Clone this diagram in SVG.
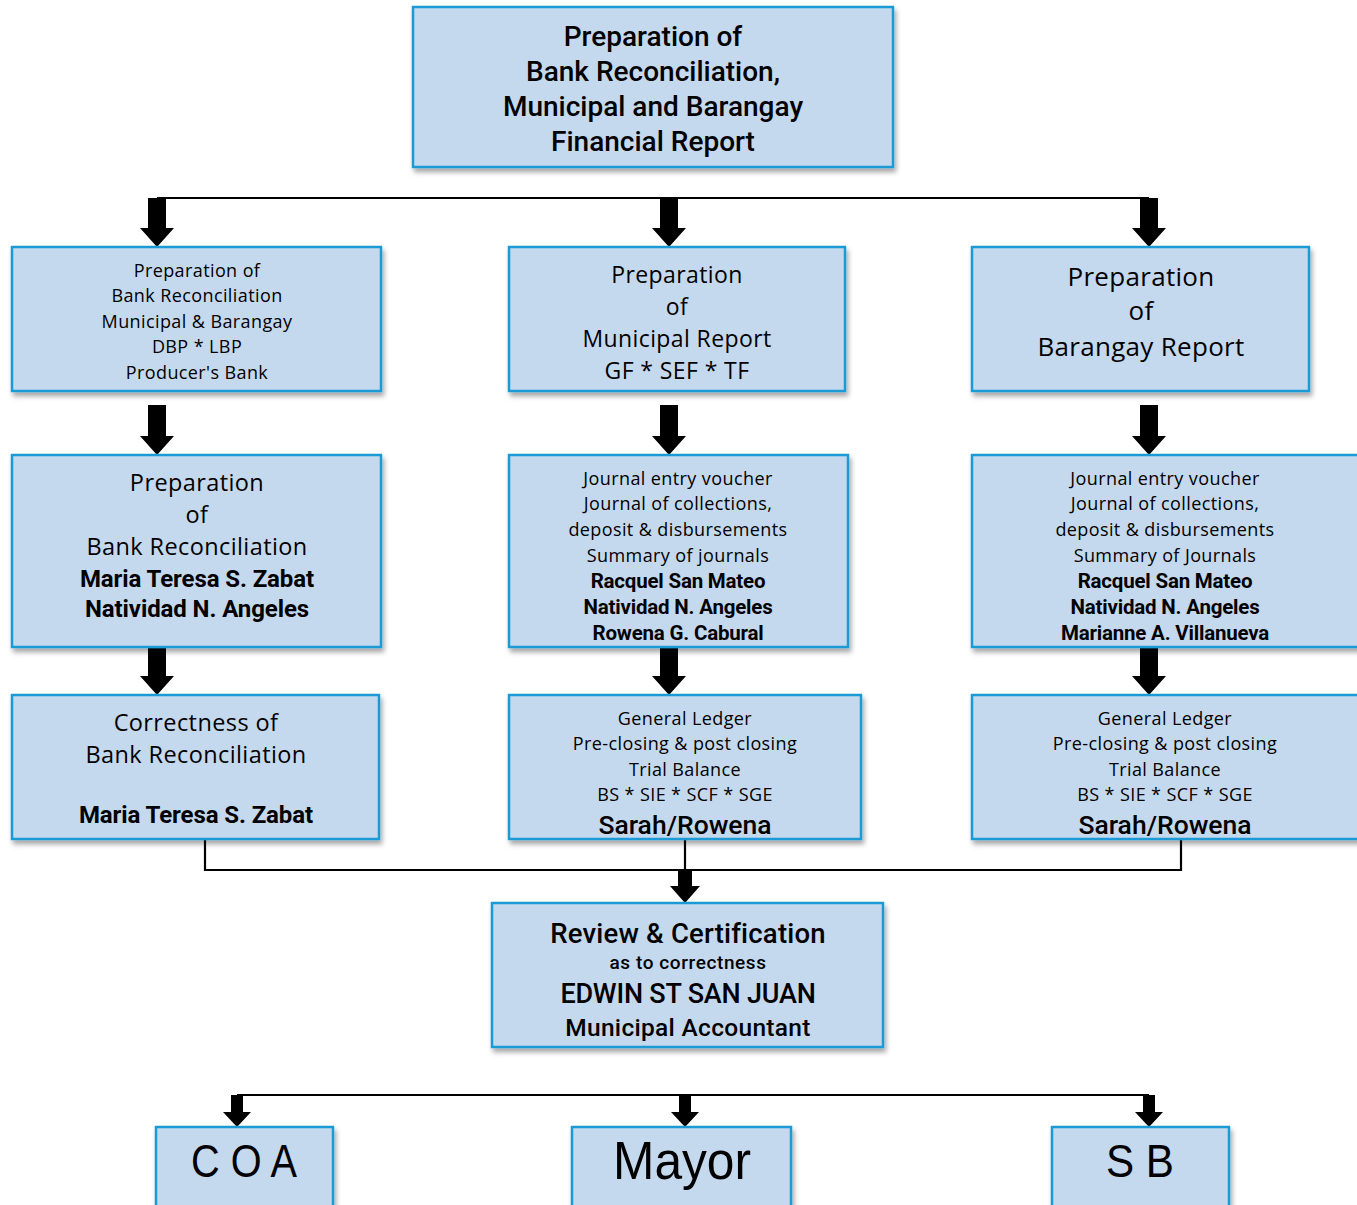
<svg xmlns="http://www.w3.org/2000/svg" width="1357" height="1205" viewBox="0 0 1357 1205">
<defs>
<filter id="sh" x="-5%" y="-5%" width="112%" height="120%">
<feDropShadow dx="2" dy="4" stdDeviation="2.5" flood-color="#000" flood-opacity="0.35"/>
</filter>
<style>
.box{fill:#c5d9ee;stroke:#1b9ad6;stroke-width:2.5;filter:url(#sh)}
.ln{stroke:#000;stroke-width:2.2;fill:none}
.ar{fill:#000}
text{text-anchor:middle;fill:#000}
.r{font-family:"Open Sans","DejaVu Sans",sans-serif}
.s{font-size:18px;letter-spacing:0.4px}
.h{font-family:Roboto,"Liberation Sans",sans-serif;font-weight:500}
.b{font-family:Roboto,"Liberation Sans",sans-serif;font-weight:700}
.n{font-family:"Liberation Sans",Arial,sans-serif}
</style>
</defs>
<rect width="1357" height="1205" fill="#fff"/>

<g id="connectors">
<path class="ln" d="M157 198H1149"/>
<path class="ln" d="M205 839V870H1181V839M685 839V870"/>
<path class="ln" d="M237 1095H1149"/>
<g class="ar">
<polygon points="148,198 166,198 166,228 174,228 157,247 140,228 148,228"/>
<polygon points="660,198 678,198 678,228 686,228 669,247 652,228 660,228"/>
<polygon points="1140,198 1158,198 1158,228 1166,228 1149,247 1132,228 1140,228"/>
<polygon points="148,405 166,405 166,436 174,436 157,455 140,436 148,436"/>
<polygon points="660,405 678,405 678,436 686,436 669,455 652,436 660,436"/>
<polygon points="1140,405 1158,405 1158,436 1166,436 1149,455 1132,436 1140,436"/>
<polygon points="148,647 166,647 166,676 174,676 157,695 140,676 148,676"/>
<polygon points="660,647 678,647 678,676 686,676 669,695 652,676 660,676"/>
<polygon points="1140,647 1158,647 1158,676 1166,676 1149,695 1132,676 1140,676"/>
<polygon points="678,870 692,870 692,886 700,886 685,903 670,886 678,886"/>
<polygon points="231,1095 243,1095 243,1112 251,1112 237,1127 223,1112 231,1112"/>
<polygon points="679,1095 691,1095 691,1112 699,1112 685,1127 671,1112 679,1112"/>
<polygon points="1143,1095 1155,1095 1155,1112 1163,1112 1149,1127 1135,1112 1143,1112"/>
</g>
</g>

<g id="top">
<rect class="box" x="413" y="7" width="480" height="160"/>
<text class="h" font-size="28"><tspan x="653" y="46">Preparation of</tspan><tspan x="653" y="81">Bank Reconciliation,</tspan><tspan x="653" y="116">Municipal and Barangay</tspan><tspan x="653" y="151">Financial Report</tspan></text>
</g>

<g id="bank-prep">
<rect class="box" x="12" y="247" width="369" height="144"/>
<text class="r s"><tspan x="197" y="277">Preparation of</tspan><tspan x="197" y="302">Bank Reconciliation</tspan><tspan x="197" y="328">Municipal &amp; Barangay</tspan><tspan x="197" y="353">DBP * LBP</tspan><tspan x="197" y="379">Producer's Bank</tspan></text>
</g>

<g id="municipal-prep">
<rect class="box" x="509" y="247" width="336" height="144"/>
<text class="r" font-size="23" letter-spacing="0.4"><tspan x="677" y="283">Preparation</tspan><tspan x="677" y="315">of</tspan><tspan x="677" y="347">Municipal Report</tspan><tspan x="677" y="379">GF * SEF * TF</tspan></text>
</g>

<g id="barangay-prep">
<rect class="box" x="972" y="247" width="337" height="144"/>
<text class="r" font-size="26" letter-spacing="0.3"><tspan x="1141" y="286">Preparation</tspan><tspan x="1141" y="320">of</tspan><tspan x="1141" y="356">Barangay Report</tspan></text>
</g>

<g id="bank-rec">
<rect class="box" x="12" y="455" width="369" height="192"/>
<text class="r" font-size="23.5" letter-spacing="0.4"><tspan x="197" y="491">Preparation</tspan><tspan x="197" y="523">of</tspan><tspan x="197" y="555">Bank Reconciliation</tspan></text>
<text class="b" font-size="24" letter-spacing="-0.1"><tspan x="197" y="587">Maria Teresa S. Zabat</tspan><tspan x="197" y="617">Natividad N. Angeles</tspan></text>
</g>

<g id="municipal-journal">
<rect class="box" x="509" y="455" width="339" height="192"/>
<text class="r s"><tspan x="678" y="485">Journal entry voucher</tspan><tspan x="678" y="510">Journal of collections,</tspan><tspan x="678" y="536">deposit  &amp; disbursements</tspan><tspan x="678" y="562">Summary of journals</tspan></text>
<text class="b" font-size="20.5" letter-spacing="-0.2"><tspan x="678" y="588">Racquel San Mateo</tspan><tspan x="678" y="614">Natividad N. Angeles</tspan><tspan x="678" y="640">Rowena G. Cabural</tspan></text>
</g>

<g id="barangay-journal">
<rect class="box" x="972" y="455" width="390" height="192"/>
<text class="r s"><tspan x="1165" y="485">Journal entry voucher</tspan><tspan x="1165" y="510">Journal of collections,</tspan><tspan x="1165" y="536">deposit  &amp; disbursements</tspan><tspan x="1165" y="562">Summary of Journals</tspan></text>
<text class="b" font-size="20.5" letter-spacing="-0.2"><tspan x="1165" y="588">Racquel San Mateo</tspan><tspan x="1165" y="614">Natividad N. Angeles</tspan><tspan x="1165" y="640">Marianne A. Villanueva</tspan></text>
</g>

<g id="bank-correct">
<rect class="box" x="12" y="695" width="367" height="144"/>
<text class="r" font-size="23.5" letter-spacing="0.4"><tspan x="196" y="731">Correctness of</tspan><tspan x="196" y="763">Bank Reconciliation</tspan></text>
<text class="b" font-size="24" letter-spacing="-0.1" x="196" y="823">Maria Teresa S. Zabat</text>
</g>

<g id="municipal-ledger">
<rect class="box" x="509" y="695" width="352" height="144"/>
<text class="r s"><tspan x="685" y="725">General Ledger</tspan><tspan x="685" y="750">Pre-closing &amp; post closing</tspan><tspan x="685" y="776">Trial Balance</tspan><tspan x="685" y="801">BS * SIE * SCF * SGE</tspan></text>
<text class="h" font-size="26.5" x="685" y="834">Sarah/Rowena</text>
</g>

<g id="barangay-ledger">
<rect class="box" x="972" y="695" width="390" height="144"/>
<text class="r s"><tspan x="1165" y="725">General Ledger</tspan><tspan x="1165" y="750">Pre-closing &amp; post closing</tspan><tspan x="1165" y="776">Trial Balance</tspan><tspan x="1165" y="801">BS * SIE * SCF * SGE</tspan></text>
<text class="h" font-size="26.5" x="1165" y="834">Sarah/Rowena</text>
</g>

<g id="review">
<rect class="box" x="492" y="903" width="391" height="144"/>
<text class="h" font-size="27.5" letter-spacing="0.2" x="688" y="943">Review &amp; Certification</text>
<text class="h" font-size="19" letter-spacing="0.6" x="688" y="969">as to correctness</text>
<text class="h" font-size="27" letter-spacing="-0.2" x="688" y="1003">EDWIN ST SAN JUAN</text>
<text class="h" font-size="24.5" letter-spacing="0.3" x="688" y="1036">Municipal Accountant</text>
</g>

<g id="coa">
<rect class="box" x="156" y="1127" width="177" height="90"/>
<text class="n" font-size="46" x="244" y="1177" textLength="106" lengthAdjust="spacingAndGlyphs">C O A</text>
</g>

<g id="mayor">
<rect class="box" x="572" y="1127" width="219" height="90"/>
<text class="n" font-size="54" x="682" y="1179" textLength="138" lengthAdjust="spacingAndGlyphs">Mayor</text>
</g>

<g id="sb">
<rect class="box" x="1052" y="1127" width="177" height="90"/>
<text class="n" font-size="46" x="1140" y="1177" textLength="68" lengthAdjust="spacingAndGlyphs">S B</text>
</g>
</svg>
